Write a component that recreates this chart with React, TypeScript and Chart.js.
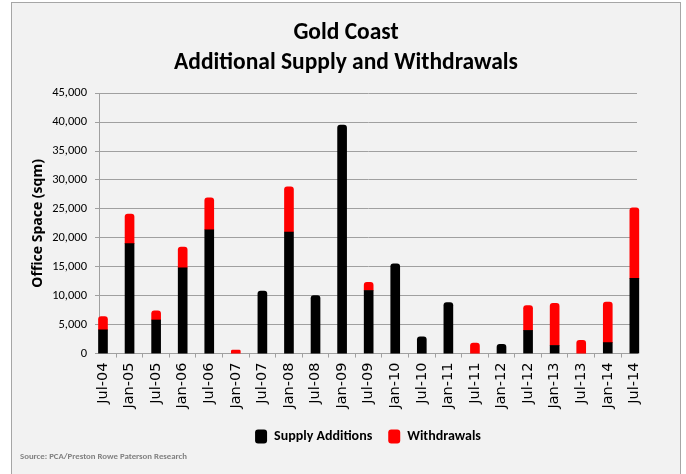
import { useEffect, useRef } from "react";
import { Chart, registerables } from "chart.js";

Chart.register(...registerables);

const categories = [
  "Jul-04", "Jan-05", "Jul-05", "Jan-06", "Jul-06", "Jan-07", "Jul-07",
  "Jan-08", "Jul-08", "Jan-09", "Jul-09", "Jan-10", "Jul-10", "Jan-11",
  "Jul-11", "Jan-12", "Jul-12", "Jan-13", "Jul-13", "Jan-14", "Jul-14",
];

const supplyAdditions = [
  4100, 19000, 5800, 14800, 21400, 0, 10800,
  21000, 10000, 39500, 10900, 15500, 2900, 8800,
  0, 1600, 4000, 1400, 0, 1900, 13000,
];

const withdrawals = [
  2300, 5100, 1600, 3600, 5500, 600, 0,
  7800, 0, 0, 1400, 0, 0, 0,
  1800, 0, 4300, 7300, 2300, 7000, 12200,
];

const titleLines = ["Gold Coast", "Additional Supply and Withdrawals"];
const yAxisTitle = "Office Space (sqm)";
const sourceText = "Source: PCA/Preston Rowe Paterson Research";
const yMax = 45000;
const yStep = 5000;

const NARROW = "'Carlito', 'Liberation Sans Narrow', 'Roboto', sans-serif";
const GRID = "#a0a0a0";

const toPoints = (arr: number[]) =>
  arr.map((v, i) => ({ x: i, y: v === 0 ? null : v }));

export default function App() {
  const ref = useRef<HTMLCanvasElement>(null);

  useEffect(() => {
    document.body.style.margin = "0";
    const canvas = ref.current;
    if (!canvas) return;
    const chart = new Chart(canvas, {
      type: "bar",
      data: {
        datasets: [
          {
            label: "Supply Additions",
            data: toPoints(supplyAdditions),
            backgroundColor: "#000000",
            borderWidth: 0,
            barThickness: 9,
            borderRadius: 3,
            borderSkipped: "start",
            clip: false,
          },
          {
            label: "Withdrawals",
            data: toPoints(withdrawals),
            backgroundColor: "#ff0000",
            borderWidth: 0,
            barThickness: 9,
            borderRadius: 3,
            borderSkipped: "start",
            clip: false,
          },
        ],
      },
      options: {
        responsive: false,
        animation: false,
        devicePixelRatio: 1,
        layout: { padding: { left: 20, right: 14, top: 0, bottom: 0 } },
        scales: {
          x: {
            type: "linear",
            stacked: true,
            min: -0.15,
            max: 20.1,
            offset: false,
            afterFit: (s: any) => {
              s.height = 60;
            },
            grid: {
              display: true,
              drawOnChartArea: false,
              drawTicks: true,
              tickLength: 4,
              color: GRID,
            },
            border: { display: true, color: GRID },
            ticks: {
              stepSize: 1,
              autoSkip: false,
              includeBounds: false,
              minRotation: 90,
              maxRotation: 90,
              padding: 5,
              color: "#000000",
              font: { family: "'DejaVu Sans', sans-serif", size: 14.5 },
              callback: (v: any) => {
                const i = Number(v);
                return Number.isInteger(i) && categories[i] ? categories[i] : "";
              },
            },
          },
          y: {
            stacked: true,
            min: 0,
            max: yMax,
            afterFit: (s: any) => {
              s.width = 79;
            },
            grid: { color: GRID, tickLength: 4, drawTicks: true },
            border: { display: true, color: GRID },
            ticks: {
              stepSize: yStep,
              padding: 8,
              color: "#000000",
              font: { family: NARROW, size: 12.5 },
              callback: (v: any) => Number(v).toLocaleString("en-US"),
            },
            title: {
              display: true,
              text: yAxisTitle,
              color: "#000000",
              padding: { top: 10, bottom: 0 },
              font: { family: "'Open Sans', sans-serif", size: 14, weight: "bold" },
            },
          },
          y2: {
            type: "linear",
            position: "right",
            display: true,
            afterFit: (s: any) => {
              s.width = 35;
            },
            grid: { display: false, drawOnChartArea: false },
            border: { display: false },
            ticks: { display: false },
          },
        },
        plugins: {
          title: {
            display: true,
            text: titleLines,
            color: "#000000",
            padding: { top: 18, bottom: 15 },
            font: { family: NARROW, size: 23.5, weight: "bold", lineHeight: 1.28 },
          },
          subtitle: {
            display: true,
            text: sourceText,
            position: "bottom",
            align: "start",
            color: "#808080",
            padding: { top: -2, bottom: 11 },
            font: { family: NARROW, size: 8.8, weight: "bold", lineHeight: 1.3 },
          },
          legend: {
            display: true,
            position: "bottom",
            fullSize: false,
            labels: {
              boxWidth: 12,
              boxHeight: 14,
              useBorderRadius: true,
              borderRadius: 3,
              padding: 16,
              color: "#000000",
              font: { family: NARROW, size: 14, weight: "bold" },
            },
          },
          tooltip: { enabled: false },
        },
      },
    } as any);
    return () => chart.destroy();
  }, []);

  return (
    <div
      style={{
        position: "relative",
        width: 686,
        height: 474,
        background: "#ffffff",
        overflow: "hidden",
      }}
    >
      <div
        style={{
          position: "absolute",
          left: 11,
          top: 2,
          width: 670,
          height: 490,
          boxSizing: "border-box",
          border: "1px solid #a6a6a6",
          background: "#f2f2f2",
        }}
      />
      <canvas
        ref={ref}
        width={686}
        height={474}
        style={{ position: "absolute", left: 0, top: 0 }}
      />
    </div>
  );
}
